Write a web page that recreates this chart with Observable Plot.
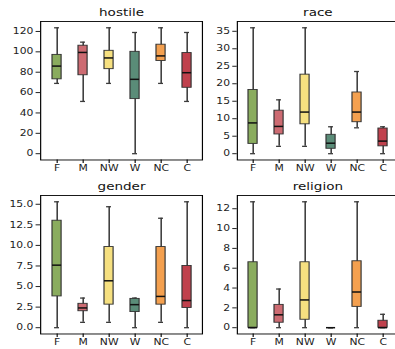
<!DOCTYPE html>
<html>
<head>
<meta charset="utf-8">
<script src="https://cdn.jsdelivr.net/npm/d3@7"></script>
<script src="https://cdn.jsdelivr.net/npm/@observablehq/plot@0.6"></script>
<style>
  html, body { margin: 0; padding: 0; background: #fff; }
  #wrap { position: relative; width: 395px; height: 349px; overflow: hidden; }
  #wrap > svg { position: absolute; transform-origin: 0 0; }
</style>
</head>
<body>
<div id="wrap"></div>
<script>
// categories and colours
const categories = ["F", "M", "NW", "W", "NC", "C"];
const colors = ["#8aac5e", "#cd6b72", "#f6e080", "#5a8c78", "#f4a04f", "#c0414d"];

// box summaries per category: [lowWhisker, q1, median, q3, highWhisker]
const hostile = [
  [69, 73, 86, 97, 123.6],
  [51.3, 77, 99.4, 106, 109.5],
  [69, 83, 94, 101, 123.6],
  [0, 53.6, 73, 100, 119],
  [69, 91, 96, 107, 123.6],
  [51.3, 64.7, 79.5, 98.8, 119]
];
const race = [
  [0, 2.8, 8.8, 18.2, 36],
  [2.1, 5.5, 7.8, 12.3, 15.4],
  [2.1, 8.4, 11.9, 22.6, 36],
  [0, 1.4, 3.0, 5.4, 7.7],
  [7.4, 9.0, 11.9, 17.5, 23.5],
  [0, 2.1, 3.6, 7.2, 7.7]
];
const gender = [
  [0, 3.8, 7.6, 13.0, 15.3],
  [0.65, 2.0, 2.4, 2.9, 3.6],
  [0.65, 2.8, 5.7, 9.8, 14.7],
  [0, 1.9, 2.8, 3.5, 3.6],
  [0.65, 2.8, 3.8, 9.8, 13.3],
  [0, 2.4, 3.3, 7.5, 15.3]
];
const religion = [
  [0, 0, 0, 6.6, 12.7],
  [0, 0.5, 1.3, 2.3, 3.9],
  [0, 0.8, 2.8, 6.6, 12.7],
  [0, 0, 0, 0, 0],
  [0, 2.1, 3.6, 6.7, 12.7],
  [0, 0, 0, 0.7, 1.35]
];

// tick values
const hostileTicks = [0, 20, 40, 60, 80, 100, 120];
const raceTicks = [0, 5, 10, 15, 20, 25, 30, 35];
const genderTicks = [0, 2.5, 5, 7.5, 10, 12.5, 15];
const religionTicks = [0, 2, 4, 6, 8, 10, 12];

// the reference figure is stretched horizontally
const SX = 1.3;

function toRows(stats) {
  return stats.map((s, i) => ({
    cat: categories[i], color: colors[i],
    lo: s[0], q1: s[1], med: s[2], q3: s[3], hi: s[4]
  }));
}

function panel({title, stats, ticks, fmt, left, top, frameLeft, frameRight}) {
  const rows = toRows(stats);
  const maxV = d3.max(stats, s => s[4]);
  const pad = maxV * 0.05;
  const W = 210 / SX;
  const mL = (frameLeft - left) / SX;
  const mR = W - (frameRight - left) / SX;
  const chart = Plot.plot({
    width: W,
    height: 180,
    marginLeft: mL,
    marginRight: mR,
    marginTop: 21,
    marginBottom: 20.5,
    style: {fontFamily: "'DejaVu Sans', sans-serif", fontSize: "8.3px", color: "#222", background: "transparent", overflow: "visible"},
    x: {type: "band", domain: categories, paddingInner: 2/3, paddingOuter: 1/3, label: null, tickSize: 3.5, tickPadding: 2},
    y: {domain: [-pad, maxV + pad], ticks: ticks, tickFormat: fmt, label: null, tickSize: 3.4, tickPadding: 2.2},
    marks: [
      Plot.ruleX(rows, {x: "cat", y1: "lo", y2: "hi", stroke: "#3c3c3c", strokeWidth: 1.2}),
      Plot.tickY(rows, {x: "cat", y: "lo", stroke: "#3c3c3c", strokeWidth: 1.3, insetLeft: 1.6, insetRight: 1.6}),
      Plot.tickY(rows, {x: "cat", y: "hi", stroke: "#3c3c3c", strokeWidth: 1.3, insetLeft: 1.6, insetRight: 1.6}),
      Plot.barY(rows, {x: "cat", y1: "q1", y2: "q3", fill: "color", stroke: "#333", strokeWidth: 0.9}),
      Plot.tickY(rows, {x: "cat", y: "med", stroke: "#111", strokeWidth: 1.5}),
      Plot.frame({stroke: "#000", strokeWidth: 0.9}),
      Plot.text([title], {frameAnchor: "top", dy: -5, lineAnchor: "bottom", fontSize: 10.4, fill: "#111", text: d => d})
    ]
  });
  chart.style.left = left + "px";
  chart.style.top = top + "px";
  chart.style.transform = `scale(${SX}, 1)`;
  document.getElementById("wrap").appendChild(chart);
}

panel({title: "hostile", stats: hostile, ticks: hostileTicks, fmt: d3.format("d"), left: 0, top: 0, frameLeft: 40, frameRight: 201.8});
panel({title: "race", stats: race, ticks: raceTicks, fmt: d3.format("d"), left: 196, top: 0, frameLeft: 236.7, frameRight: 397.8});
panel({title: "gender", stats: gender, ticks: genderTicks, fmt: d3.format(".1f"), left: 0, top: 173.5, frameLeft: 40, frameRight: 201.8});
panel({title: "religion", stats: religion, ticks: religionTicks, fmt: d3.format("d"), left: 196, top: 173.5, frameLeft: 236.7, frameRight: 397.8});
</script>
</body>
</html>
